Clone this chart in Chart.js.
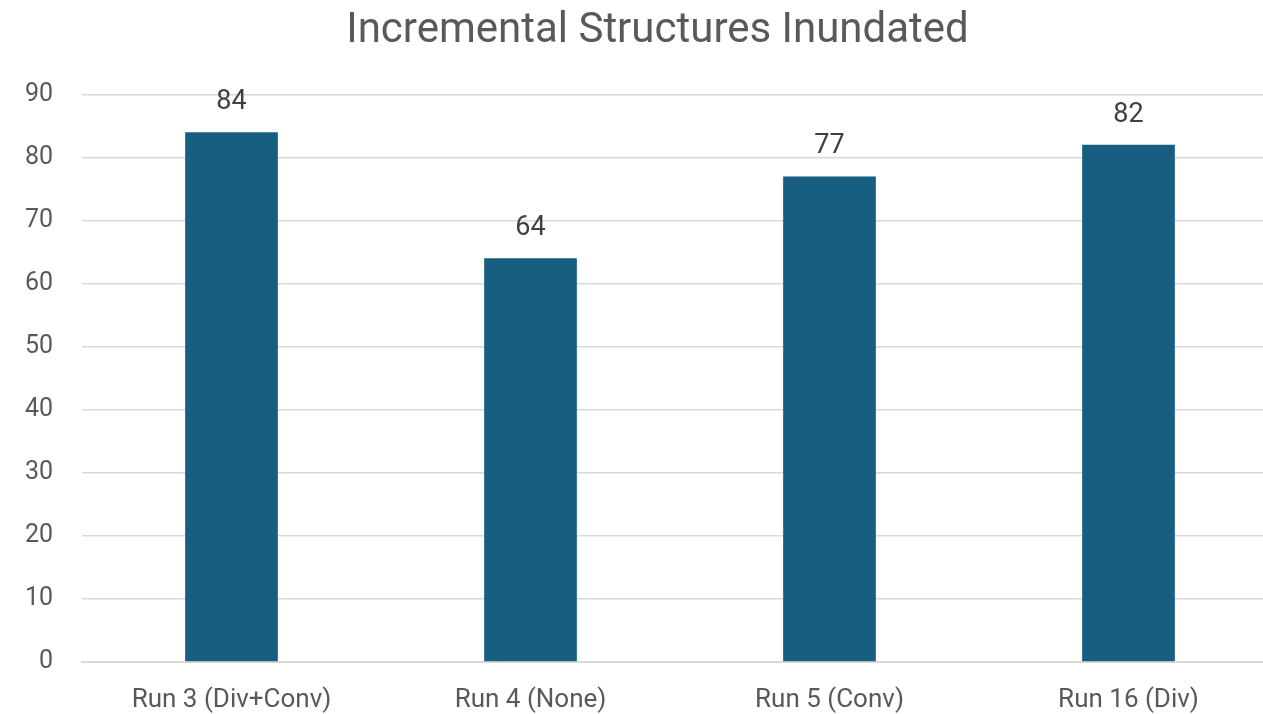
<!DOCTYPE html>
<html>
<head>
<meta charset="utf-8">
<script src="https://cdn.jsdelivr.net/npm/chart.js@4/dist/chart.umd.min.js"></script>
<style>
  html, body { margin: 0; padding: 0; background: #ffffff; overflow: hidden; }
  #wrap { width: 1315px; height: 714px; }
</style>
</head>
<body>
<div id="wrap"><canvas id="c" width="1315" height="714"></canvas></div>
<script>
const categories = ['Run 3 (Div+Conv)', 'Run 4 (None)', 'Run 5 (Conv)', 'Run 16 (Div)'];
const structures = [84, 64, 77, 82];
const yTicks = [0, 10, 20, 30, 40, 50, 60, 70, 80, 90];

const FONT = 'Roboto, "Open Sans", sans-serif';

// Writes each bar's value centred above it
const valueLabels = {
  id: 'valueLabels',
  afterDatasetsDraw(chart) {
    const { ctx } = chart;
    const meta = chart.getDatasetMeta(0);
    ctx.save();
    ctx.font = '27px ' + FONT;
    ctx.fillStyle = '#404040';
    ctx.textAlign = 'center';
    ctx.textBaseline = 'middle';
    meta.data.forEach((bar, i) => {
      ctx.fillText(String(chart.data.datasets[0].data[i]), bar.x, bar.y - 30);
    });
    ctx.restore();
  }
};

new Chart(document.getElementById('c'), {
  type: 'bar',
  data: {
    labels: categories,
    datasets: [{
      data: structures,
      backgroundColor: '#175E80',
      borderWidth: 0,
      barPercentage: 0.31,
      categoryPercentage: 1.0
    }]
  },
  options: {
    responsive: false,
    animation: false,
    layout: { padding: { left: 0, right: 0, top: 0, bottom: 0 } },
    plugins: {
      legend: { display: false },
      tooltip: { enabled: false },
      title: {
        display: true,
        text: 'Incremental Structures Inundated',
        color: '#595959',
        font: { family: FONT, size: 42, weight: 'normal' },
        padding: { top: 6, bottom: 38 }
      }
    },
    scales: {
      x: {
        afterFit(scale) { scale.height = 52; },
        grid: { display: false, drawTicks: false },
        border: { display: true, color: '#D9D9D9', width: 2 },
        ticks: { color: '#595959', font: { family: FONT, size: 26 }, padding: 23, maxRotation: 0 }
      },
      y: {
        min: 0,
        max: 90,
        afterBuildTicks(scale) { scale.ticks = yTicks.map(v => ({ value: v })); },
        afterFit(scale) { scale.width = 82; },
        grid: { color: '#D9D9D9', lineWidth: 1.5, drawTicks: false },
        border: { display: false },
        ticks: { color: '#595959', font: { family: FONT, size: 25 }, padding: 29 }
      },
      // empty margin on the right of the plot
      yRight: {
        position: 'right',
        display: true,
        min: 0,
        max: 90,
        afterFit(scale) { scale.width = 37; },
        grid: { display: false, drawTicks: false },
        border: { display: false },
        ticks: { display: false }
      }
    }
  },
  plugins: [valueLabels]
});
</script>
</body>
</html>
